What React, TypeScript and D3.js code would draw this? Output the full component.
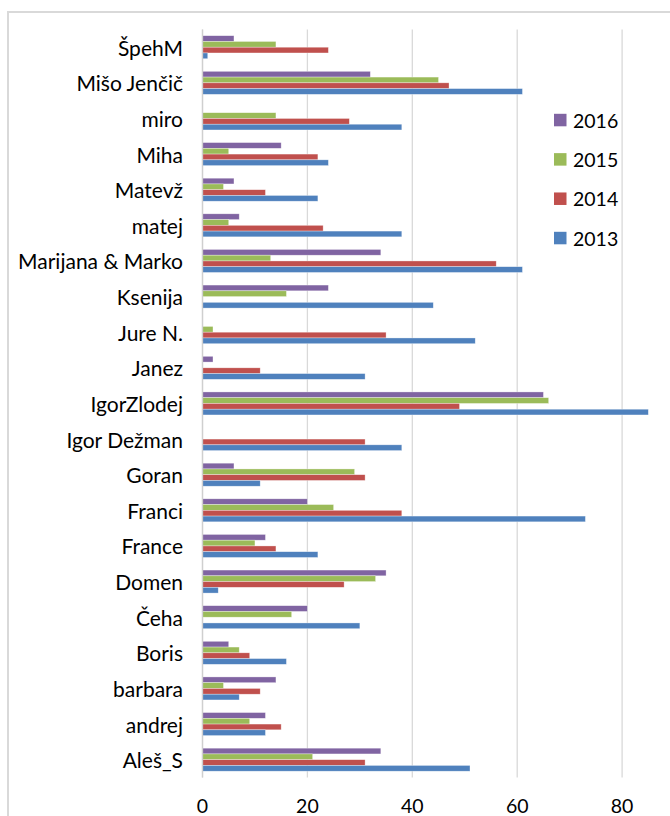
import React from "react";
import * as d3 from "d3";

// Categories, top to bottom as they appear on the axis
const people = [
  "ŠpehM", "Mišo Jenčič", "miro", "Miha", "Matevž", "matej", "Marijana & Marko",
  "Ksenija", "Jure N.", "Janez", "IgorZlodej", "Igor Dežman", "Goran", "Franci",
  "France", "Domen", "Čeha", "Boris", "barbara", "andrej", "Aleš_S",
];

// Values per year, same order as people
const v2016 = [6, 32, 0, 15, 6, 7, 34, 24, 0, 2, 65, 0, 6, 20, 12, 35, 20, 5, 14, 12, 34];
const v2015 = [14, 45, 14, 5, 4, 5, 13, 16, 2, 0, 66, 0, 29, 25, 10, 33, 17, 7, 4, 9, 21];
const v2014 = [24, 47, 28, 22, 12, 23, 56, 0, 35, 11, 49, 31, 31, 38, 14, 27, 0, 9, 11, 15, 31];
const v2013 = [1, 61, 38, 24, 22, 38, 61, 44, 52, 31, 85, 38, 11, 73, 22, 3, 30, 16, 7, 12, 51];

const years = ["2016", "2015", "2014", "2013"];
const colors = ["#8064A2", "#9BBB59", "#C0504D", "#4F81BD"];
const seriesValues = [v2016, v2015, v2014, v2013];

const xTicks = [0, 20, 40, 60, 80];
const xDomain: [number, number] = [0, 100];

const W = 670;
const H = 816;
const plot = { left: 202.5, top: 29.4, bottom: 777.5, unit: 5.245 };
const font = "Lato, 'Open Sans', sans-serif";

export default function App() {
  const x = d3
    .scaleLinear()
    .domain(xDomain)
    .range([plot.left, plot.left + (xDomain[1] - xDomain[0]) * plot.unit]);

  const y = d3.scaleBand<string>().domain(people).range([plot.top, plot.bottom]).padding(0);

  // Excel-style gap width of 219% between category groups
  const gap = 2.19;
  const barH = y.step() / (years.length + gap);
  const groupOffset = (y.step() - barH * years.length) / 2;

  const yearScale = d3
    .scaleBand<string>()
    .domain(years)
    .range([groupOffset, groupOffset + barH * years.length])
    .padding(0);

  const legendY = d3.scalePoint<string>().domain(years).range([120, 238]);

  return (
    <div style={{ position: "absolute", left: 0, top: 0 }}>
      <svg width={W} height={H} style={{ display: "block", background: "#fff" }}>
        {/* chart frame */}
        <rect x={8} y={12} width={W + 20} height={H + 20} fill="#fff" stroke="#d9d9d9" strokeWidth={2} />

        {/* vertical gridlines */}
        {xTicks.map((t) => (
          <line
            key={"g" + t}
            x1={x(t)}
            x2={x(t)}
            y1={plot.top}
            y2={plot.bottom}
            stroke="#d9d9d9"
            strokeWidth={1.3}
          />
        ))}

        {/* bars */}
        {people.map((p, i) => (
          <g key={p} transform={`translate(0,${y(p)})`}>
            {years.map((yr, s) => {
              const val = seriesValues[s][i];
              if (!val) return null;
              return (
                <rect
                  key={yr}
                  x={x(0)}
                  y={yearScale(yr)!}
                  width={x(val) - x(0)}
                  height={barH}
                  fill={colors[s]}
                  stroke="rgba(255,255,255,0.55)"
                  strokeWidth={0.6}
                />
              );
            })}
          </g>
        ))}

        {/* category axis line */}
        <line x1={x(0)} x2={x(0)} y1={plot.top} y2={plot.bottom} stroke="#cfcfcf" strokeWidth={1.3} />

        {/* category labels */}
        {people.map((p) => (
          <text
            key={"l" + p}
            x={183}
            y={y(p)! + y.step() / 2}
            textAnchor="end"
            dominantBaseline="central"
            fontFamily={font}
            fontSize={21}
            fill="#000"
          >
            {p}
          </text>
        ))}

        {/* value axis labels */}
        {xTicks.map((t) => (
          <text
            key={"t" + t}
            x={x(t)}
            y={805}
            textAnchor="middle"
            dominantBaseline="central"
            fontFamily={font}
            fontSize={19.5}
            fill="#000"
          >
            {t}
          </text>
        ))}

        {/* legend */}
        {years.map((yr, s) => (
          <g key={"lg" + yr} transform={`translate(554,${legendY(yr)})`}>
            <rect x={0} y={-6.2} width={12.5} height={12.5} fill={colors[s]} />
            <text
              x={19}
              y={0}
              dominantBaseline="central"
              fontFamily={font}
              fontSize={19.5}
              fill="#000"
            >
              {yr}
            </text>
          </g>
        ))}
      </svg>
    </div>
  );
}
